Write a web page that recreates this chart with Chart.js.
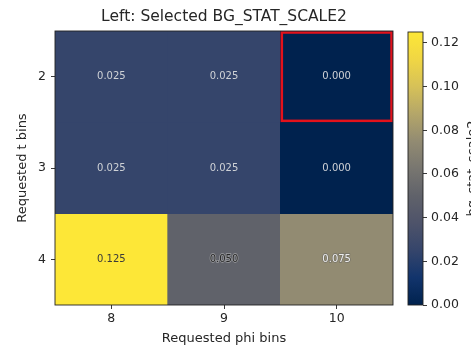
<!DOCTYPE html>
<html>
<head>
<meta charset="utf-8">
<script src="https://cdn.jsdelivr.net/npm/chart.js@4.4.1/dist/chart.umd.min.js"></script>
<style>
  html, body { margin: 0; padding: 0; background: #fff; }
  #wrap { position: relative; width: 471px; height: 346px; overflow: hidden; }
  #heat { position: absolute; left: 0; top: 0; }
  #cbar { position: absolute; left: 395px; top: 0; }
</style>
</head>
<body>
<div id="wrap">
  <canvas id="heat" width="400" height="346"></canvas>
  <canvas id="cbar" width="76" height="346"></canvas>
</div>
<script>
// datos
const phiBins = ['8', '9', '10'];
const tBins = [2, 3, 4];
const rowT2 = [0.025, 0.025, 0.000];
const rowT3 = [0.025, 0.025, 0.000];
const rowT4 = [0.125, 0.050, 0.075];
const cbTicks = [0.00, 0.02, 0.04, 0.06, 0.08, 0.10, 0.12];
const selectedT = 2;
const selectedPhi = '10';
const chartTitle = 'Left: Selected BG_STAT_SCALE2';

const rows = [rowT2, rowT3, rowT4];
const vmin = 0;
const vmax = Math.max(...rows.flat());

Chart.defaults.font.family = "'DejaVu Sans', sans-serif";
Chart.defaults.color = '#262626';

// cividis aproximado
const cividisStops = [
    [0.0, [0, 34, 78]],
    [0.1, [18, 52, 108]],
    [0.2, [53, 69, 107]],
    [0.3, [78, 83, 106]],
    [0.4, [96, 98, 106]],
    [0.5, [120, 118, 112]],
    [0.6, [146, 139, 114]],
    [0.7, [180, 166, 105]],
    [0.8, [214, 193, 88]],
    [0.9, [240, 214, 68]],
    [1.0, [253, 231, 55]]
];
function cividis(t) {
    t = Math.max(0, Math.min(1, t));
    for (let i = 1; i < cividisStops.length; i++) {
        const [t1, c1] = cividisStops[i];
        const [t0, c0] = cividisStops[i - 1];
        if (t <= t1) {
            const f = (t - t0) / (t1 - t0);
            const c = c0.map((v, k) => Math.round(v + (c1[k] - v) * f));
            return `rgb(${c[0]},${c[1]},${c[2]})`;
        }
    }
    return 'rgb(253,231,55)';
}
function norm(v) { return (v - vmin) / (vmax - vmin); }

// color del texto según el fondo
function labelStyle(v) {
    const n = norm(v);
    if (n < 0.3) return { fill: '#cfd2d6', halo: null };
    if (n < 0.5) return { fill: '#262626', halo: 'rgba(200,200,200,0.6)' };
    if (n < 0.9) return { fill: '#eeeeee', halo: 'rgba(95,95,95,0.6)' };
    return { fill: '#3a3a3a', halo: null };
}

const datasets = tBins.map((t, r) => ({
    label: 't=' + t,
    data: phiBins.map(() => [t - 0.5, t + 0.5]),
    backgroundColor: rows[r].map(v => cividis(norm(v))),
    borderWidth: 0,
    grouped: false,
    barPercentage: 1,
    categoryPercentage: 1
}));

const heatPlugin = {
    id: 'heatExtras',
    afterDatasetsDraw(chart) {
        const ctx = chart.ctx;
        const x = chart.scales.x;
        const y = chart.scales.y;
        const colW = x.width / phiBins.length;

        // textos de las celdas
        ctx.save();
        ctx.font = "10px 'DejaVu Sans', sans-serif";
        ctx.textAlign = 'center';
        ctx.textBaseline = 'middle';
        tBins.forEach((t, r) => {
            phiBins.forEach((p, c) => {
                const v = rows[r][c];
                const st = labelStyle(v);
                const px = x.getPixelForValue(c);
                const py = y.getPixelForValue(t);
                const txt = v.toFixed(3);
                if (st.halo) {
                    ctx.lineWidth = 1.4;
                    ctx.strokeStyle = st.halo;
                    ctx.strokeText(txt, px, py);
                }
                ctx.fillStyle = st.fill;
                ctx.fillText(txt, px, py);
            });
        });

        // recuadro rojo de la selección
        const ci = phiBins.indexOf(selectedPhi);
        const cx = x.getPixelForValue(ci);
        const top = y.getPixelForValue(selectedT - 0.5);
        const bot = y.getPixelForValue(selectedT + 0.5);
        ctx.strokeStyle = '#e3121b';
        ctx.lineWidth = 2.5;
        ctx.strokeRect(cx - colW / 2 + 1.5, top + 1.5, colW - 3, bot - top - 3);

        // marco de los ejes
        const a = chart.chartArea;
        ctx.strokeStyle = '#222';
        ctx.lineWidth = 0.9;
        ctx.strokeRect(a.left, a.top, a.right - a.left, a.bottom - a.top);

        // título centrado sobre el área del gráfico
        ctx.fillStyle = '#262626';
        ctx.font = "15.5px 'DejaVu Sans', sans-serif";
        ctx.textBaseline = 'middle';
        ctx.fillText(chartTitle, (a.left + a.right) / 2, 17);
        ctx.restore();
    }
};

new Chart(document.getElementById('heat'), {
    type: 'bar',
    data: { labels: phiBins, datasets: datasets },
    options: {
        responsive: false,
        animation: false,
        devicePixelRatio: 1,
        layout: { padding: { left: 0, right: 7, top: 31, bottom: 0 } },
        plugins: {
            legend: { display: false },
            tooltip: { enabled: false },
            title: { display: false }
        },
        scales: {
            x: {
                type: 'category',
                offset: true,
                grid: { display: true, offset: false, drawOnChartArea: false, drawTicks: true, tickLength: 4, color: '#222', lineWidth: 0.9 },
                border: { display: false },
                ticks: { color: '#262626', font: { size: 12.5 }, padding: 2 },
                title: { display: true, text: 'Requested phi bins', color: '#262626', font: { size: 13 }, padding: { top: 1, bottom: 0 } },
                afterFit(scale) { scale.height = 41; }
            },
            y: {
                type: 'linear',
                reverse: true,
                min: tBins[0] - 0.5,
                max: tBins[tBins.length - 1] + 0.5,
                afterBuildTicks(scale) { scale.ticks = tBins.map(v => ({ value: v })); },
                grid: { display: true, drawOnChartArea: false, drawTicks: true, tickLength: 4, color: '#222', lineWidth: 0.9 },
                border: { display: false },
                ticks: { color: '#262626', font: { size: 12.5 }, padding: 5 },
                title: { display: true, text: 'Requested t bins', color: '#262626', font: { size: 13 }, padding: { top: 15, bottom: 4 } },
                afterFit(scale) { scale.width = 55; }
            }
        }
    },
    plugins: [heatPlugin]
});

// barra de color
const cbPlugin = {
    id: 'cbExtras',
    afterDraw(chart) {
        const ctx = chart.ctx;
        const a = chart.chartArea;
        ctx.save();
        ctx.strokeStyle = '#222';
        ctx.lineWidth = 0.9;
        ctx.strokeRect(a.left, a.top, a.right - a.left, a.bottom - a.top);
        // etiqueta (cortada en el borde, como en el original)
        ctx.fillStyle = '#262626';
        ctx.font = "13px 'DejaVu Sans', sans-serif";
        ctx.textAlign = 'center';
        ctx.textBaseline = 'top';
        ctx.translate(71, (a.top + a.bottom) / 2);
        ctx.rotate(-Math.PI / 2);
        ctx.fillText('bg_stat_scale2', 0, 0);
        ctx.restore();
    }
};

new Chart(document.getElementById('cbar'), {
    type: 'bar',
    data: {
        labels: ['cb'],
        datasets: [{
            data: [[vmin, vmax]],
            borderWidth: 0,
            barPercentage: 1,
            categoryPercentage: 1,
            backgroundColor(c) {
                const area = c.chart.chartArea;
                if (!area) return null;
                const g = c.chart.ctx.createLinearGradient(0, area.bottom, 0, area.top);
                cividisStops.forEach(([t]) => g.addColorStop(t, cividis(t)));
                return g;
            }
        }]
    },
    options: {
        responsive: false,
        animation: false,
        devicePixelRatio: 1,
        layout: { padding: { left: 13, right: 0, top: 32, bottom: 41 } },
        plugins: { legend: { display: false }, tooltip: { enabled: false } },
        scales: {
            x: { display: false },
            y: {
                position: 'right',
                min: vmin,
                max: vmax,
                afterBuildTicks(scale) { scale.ticks = cbTicks.map(v => ({ value: v })); },
                grid: { display: true, drawOnChartArea: false, drawTicks: true, tickLength: 4, color: '#222', lineWidth: 0.9 },
                border: { display: false },
                ticks: { color: '#262626', font: { size: 12.5 }, padding: 4, callback: v => v.toFixed(2) },
                afterFit(scale) { scale.width = 48; }
            }
        }
    },
    plugins: [cbPlugin]
});
</script>
</body>
</html>
